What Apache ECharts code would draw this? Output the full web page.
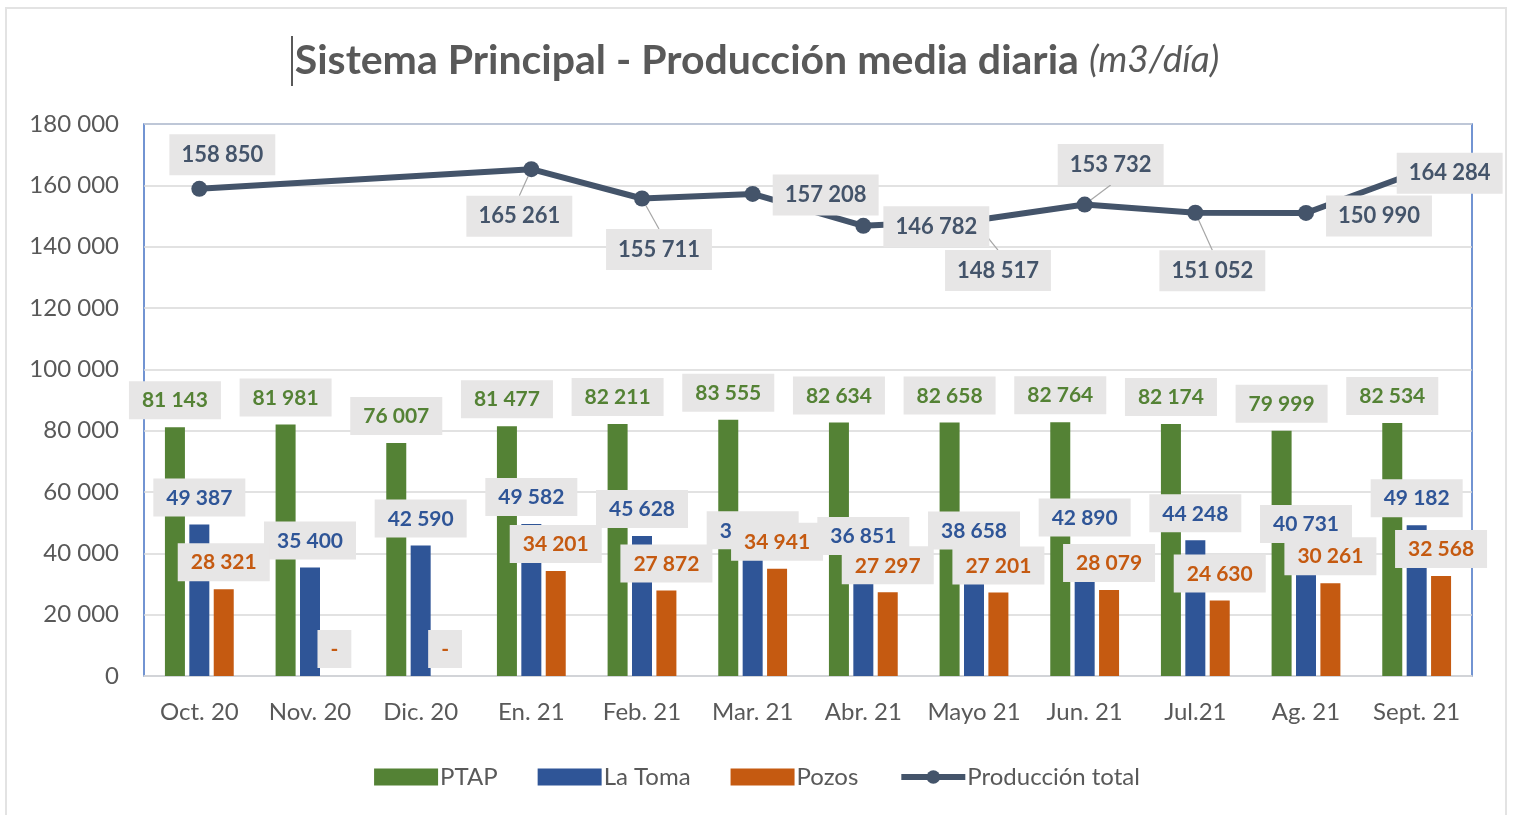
<!DOCTYPE html>
<html lang="es">
<head>
   <meta charset="UTF-8">
   <title>Sistema Principal</title>
   <script src="https://cdn.jsdelivr.net/npm/echarts@6/dist/echarts.min.js"></script>
   <style type="text/css">
   body{margin:0; padding:0; background:#fff;}
   #main{width:1514px; height:815px;}
   </style>
</head>
<body>
<div id="main"></div>
<script type="text/javascript">
// datos (m3/día)
var months = ['Oct. 20', 'Nov. 20', 'Dic. 20', 'En. 21', 'Feb. 21', 'Mar. 21', 'Abr. 21', 'Mayo 21', 'Jun. 21', 'Jul.21', 'Ag. 21', 'Sept. 21'];
var ptap   = [81143, 81981, 76007, 81477, 82211, 83555, 82634, 82658, 82764, 82174, 79999, 82534];
var laToma = [49387, 35400, 42590, 49582, 45628, 38712, 36851, 38658, 42890, 44248, 40731, 49182];
var pozos  = [28321, 0, 0, 34201, 27872, 34941, 27297, 27201, 28079, 24630, 30261, 32568];
var total  = [158850, null, null, 165261, 155711, 157208, 146782, 148517, 153732, 151052, 150990, 164284];
var yTicks = [0, 20000, 40000, 60000, 80000, 100000, 120000, 140000, 160000, 180000];

// posicion manual de las etiquetas de la linea (como en Excel)
var totalLabelDx = [23, 0, 0, -12, 17, 73, 73, 24, 26, 17, 73, 33];
var totalLabelDy = [-34, 0, 0, 47, 51, 1, 1, 50, -40, 58, 3, 1];
var totalLeader  = [false, false, false, true, true, false, false, true, true, true, false, false];

var FONT = 'Lato';

function fmt(v) {
    if (v === 0) return '-';
    return String(v).replace(/\B(?=(\d{3})+(?!\d))/g, ' ');
}

function barLabel(color) {
    return {
        show: true,
        position: 'top',
        distance: 8,
        color: color,
        fontFamily: FONT,
        fontSize: 21,
        fontWeight: 'bold',
        backgroundColor: '#e7e6e6',
        padding: [9, 13, 8, 13],
        formatter: function (p) { return fmt(p.value); }
    };
}

var myChart = echarts.init(document.getElementById('main'));

var totalData = total.map(function (v, i) {
    return { value: v, labelLine: { show: totalLeader[i] } };
});

var option = {
    backgroundColor: '#ffffff',
    animation: false,
    color: ['#548235', '#2f5597', '#c55a11', '#44546a'],
    title: {
        left: 'center',
        top: 35,
        text: '{b|Sistema Principal - Producción media diaria}  {i|(m3/día)}',
        textStyle: {
            rich: {
                b: { fontFamily: FONT, fontSize: 41, fontWeight: 'bold', color: '#595959' },
                i: { fontFamily: FONT, fontSize: 37, fontStyle: 'italic', fontWeight: 'normal', color: '#595959' }
            }
        }
    },
    graphic: [
        { type: 'polyline', shape: { points: [[6, 815], [6, 8], [1506, 8], [1506, 815]] },
          style: { stroke: '#e3e3e3', lineWidth: 2, fill: null }, silent: true },
        { type: 'line', shape: { x1: 292, y1: 36, x2: 292, y2: 86 },
          style: { stroke: '#222', lineWidth: 1.5 }, silent: true }
    ],
    legend: {
        left: 'center',
        top: 760,
        itemWidth: 64,
        itemHeight: 17,
        itemGap: 40,
        textStyle: { fontFamily: FONT, fontSize: 24, color: '#595959', padding: [0, 0, 0, -3] },
        data: [
            { name: 'PTAP', icon: 'rect' },
            { name: 'La Toma', icon: 'rect' },
            { name: 'Pozos', icon: 'rect' },
            { name: 'Producción total', lineStyle: { width: 6 } }
        ]
    },
    grid: {
        left: 144,
        right: 42,
        top: 124,
        bottom: 139,
        show: true,
        borderColor: '#4472c4',
        borderWidth: 1.5,
        backgroundColor: '#fff'
    },
    xAxis: {
        type: 'category',
        data: months,
        axisTick: { show: false },
        axisLine: { lineStyle: { color: '#d9d9d9', width: 1.5 } },
        axisLabel: { interval: 0, fontFamily: FONT, fontSize: 24, color: '#595959', margin: 24 }
    },
    yAxis: {
        type: 'value',
        min: yTicks[0],
        max: yTicks[yTicks.length - 1],
        interval: yTicks[1] - yTicks[0],
        axisLine: { show: false },
        axisTick: { show: false },
        splitLine: { lineStyle: { color: '#d9d9d9', width: 1.5 } },
        axisLabel: {
            fontFamily: FONT, fontSize: 24, color: '#595959', margin: 25,
            formatter: function (v) { return v === 0 ? '0' : fmt(v); }
        }
    },
    series: [
        {
            name: 'PTAP', type: 'bar', data: ptap,
            barWidth: 20, barGap: '22%',
            itemStyle: { color: '#548235' },
            label: barLabel('#548235')
        },
        {
            name: 'La Toma', type: 'bar', data: laToma,
            barWidth: 20, barGap: '22%',
            itemStyle: { color: '#2f5597' },
            label: barLabel('#2f5597')
        },
        {
            name: 'Pozos', type: 'bar', data: pozos,
            barWidth: 20, barGap: '22%',
            itemStyle: { color: '#c55a11' },
            label: barLabel('#c55a11')
        },
        {
            name: 'Producción total', type: 'line', data: totalData,
            connectNulls: true,
            symbol: 'circle', symbolSize: 16,
            z: 5,
            lineStyle: { color: '#44546a', width: 6 },
            itemStyle: { color: '#44546a' },
            label: {
                show: true,
                color: '#44546a',
                fontFamily: FONT,
                fontSize: 22,
                fontWeight: 'bold',
                backgroundColor: '#e7e6e6',
                padding: [10, 12, 9, 12],
                formatter: function (p) { return fmt(p.value); }
            },
            labelLine: { lineStyle: { color: '#a6a6a6', width: 1.2 } },
            labelLayout: function (params) {
                var i = params.dataIndex;
                var r = params.rect;
                return {
                    x: r.x + r.width / 2 + totalLabelDx[i],
                    y: r.y + r.height / 2 + totalLabelDy[i],
                    align: 'center',
                    verticalAlign: 'middle'
                };
            }
        }
    ]
};
myChart.setOption(option);
</script>
</body>
</html>
